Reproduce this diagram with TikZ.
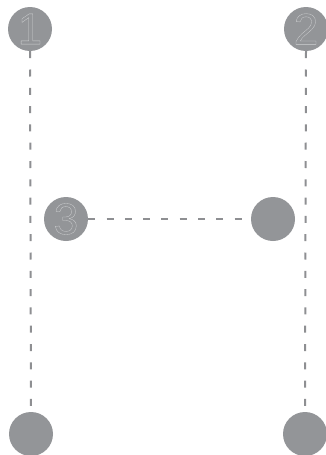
\documentclass[tikz,border=0pt]{standalone}
\usepackage{fontspec}
\setmainfont{Liberation Sans}
\definecolor{dotgray}{HTML}{939598}
\definecolor{digitline}{HTML}{D0D1D3}
\definecolor{linegray}{HTML}{8E8F92}
\newcommand{\outlinedigit}[1]{\special{pdf:code q 1 Tr 0.3 w}\textcolor{digitline}{#1}\special{pdf:code Q}}
\begin{document}
\begin{tikzpicture}[x=1pt,y=-1pt,
  dot/.style={circle,fill=dotgray,draw=none,minimum size=44pt,inner sep=0pt,
    font=\fontsize{44}{44}\selectfont},
  conn/.style={draw=linegray,line width=2pt,dash pattern=on 7pt off 11.3pt}]
\useasboundingbox (0,0) rectangle (326,455);
\node[dot] (n1) at (30,29) {\outlinedigit{1}};
\node[dot] (n2) at (306,29) {\outlinedigit{2}};
\node[dot] (n3) at (66,219) {\outlinedigit{3}};
\node[dot] (n4) at (273,219) {};
\node[dot] (n5) at (31,434) {};
\node[dot] (n6) at (305,434) {};
\draw[conn] (n1.south) -- (n5.north);
\draw[conn] (n2.south) -- (n6.north);
\draw[conn] (n3.east) -- (n4.west);
\end{tikzpicture}
\end{document}
